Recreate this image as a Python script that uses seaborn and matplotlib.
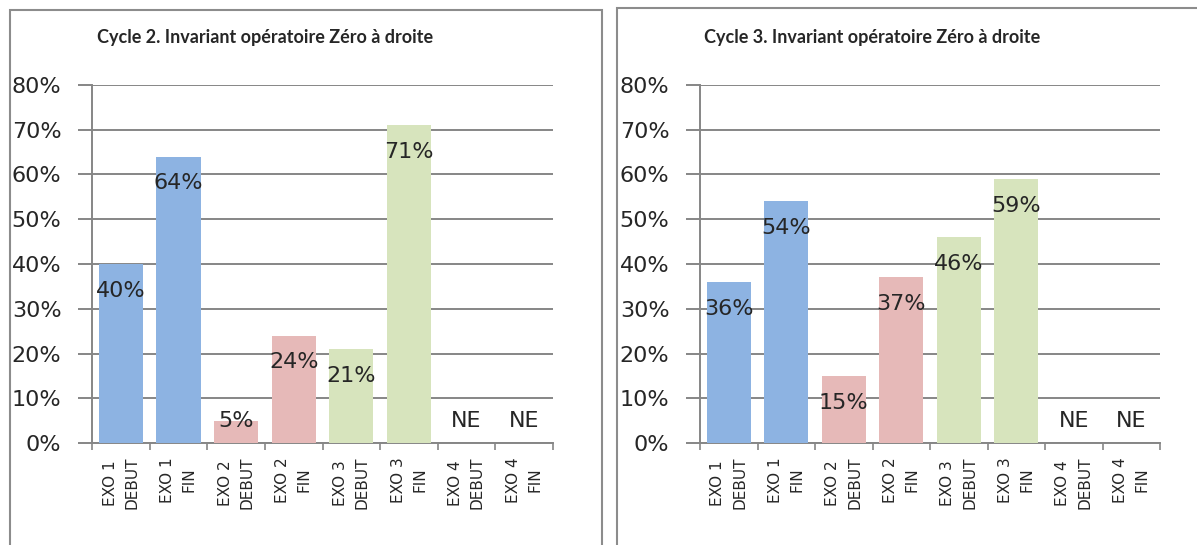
import numpy as np
import pandas as pd
import matplotlib
matplotlib.use("Agg")
import matplotlib.pyplot as plt
import seaborn as sns
from matplotlib.patches import Rectangle


CATEGORIES = ["EXO 1\nDEBUT", "EXO 1\nFIN", "EXO 2\nDEBUT", "EXO 2\nFIN",
              "EXO 3\nDEBUT", "EXO 3\nFIN", "EXO 4\nDEBUT", "EXO 4\nFIN"]
CYCLE2 = [40, 64, 5, 24, 21, 71, np.nan, np.nan]
CYCLE3 = [36, 54, 15, 37, 46, 59, np.nan, np.nan]
TITLES = ["Cycle 2. Invariant opératoire Zéro à droite",
          "Cycle 3. Invariant opératoire Zéro à droite"]
BAR_COLORS = ["#8DB3E2", "#8DB3E2", "#E6B9B8", "#E6B9B8",
              "#D7E4BD", "#D7E4BD", "#D7E4BD", "#D7E4BD"]
Y_TICKS = [0, 10, 20, 30, 40, 50, 60, 70, 80]

W, H = 1197, 545
GRID = "#868686"
TEXT = "#262626"


def draw_panel(ax, values):
    df = pd.DataFrame({"cat": CATEGORIES, "val": values})
    sns.barplot(data=df, x="cat", y="val", hue="cat", order=CATEGORIES,
                palette=BAR_COLORS, width=0.77, legend=False, ax=ax,
                saturation=1, linewidth=0, zorder=3)
    ax.set_xlim(-0.5, len(CATEGORIES) - 0.5)
    ax.set_ylim(0, 80)
    ax.set_yticks(Y_TICKS)
    ax.set_yticklabels([f"{t}%" for t in Y_TICKS], fontsize=16,
                       color=TEXT, family="DejaVu Sans")
    ax.yaxis.grid(True, color=GRID, linewidth=1.4, zorder=0)
    ax.set_axisbelow(True)
    ax.tick_params(axis="y", left=True, length=10, width=1.4, color=GRID,
                   pad=12)

    # category labels sit between the boundary ticks
    ax.set_xticks(range(len(CATEGORIES)))
    ax.set_xticklabels(CATEGORIES, rotation=90, fontsize=11, color=TEXT,
                       multialignment="center", linespacing=1.55)
    ax.set_xticks(np.arange(-0.5, len(CATEGORIES)), minor=True)
    ax.tick_params(axis="x", which="major", bottom=False, length=0, pad=10)
    ax.tick_params(axis="x", which="minor", bottom=True, length=5,
                   width=1.2, color=GRID)
    ax.set_xlabel("")
    ax.set_ylabel("")

    for side in ("top", "right"):
        ax.spines[side].set_visible(False)
    for side in ("left", "bottom"):
        ax.spines[side].set_color(GRID)
        ax.spines[side].set_linewidth(1.4)

    for i, v in enumerate(values):
        if np.isnan(v):
            ax.text(i, 5, "NE", ha="center", va="center", fontsize=16,
                    color=TEXT, zorder=5)
        else:
            ax.text(i, max(v - 6, 5), f"{v:.0f}%", ha="center", va="center",
                    fontsize=16, color=TEXT, zorder=5)


sns.set_theme(style="white")
plt.rcParams["font.family"] = ["DejaVu Sans"]

fig = plt.figure(figsize=(W / 100, H / 100), dpi=100)
fig.patch.set_facecolor("white")

# panel frames, like two pasted chart objects
fig.patches.append(Rectangle((10 / W, -0.05), 592 / W, 1.05 - 10 / H,
                             transform=fig.transFigure, fill=False,
                             edgecolor="#8c8c8c", linewidth=1.5))
fig.patches.append(Rectangle((617 / W, -0.05), 0.6, 1.05 - 8 / H,
                             transform=fig.transFigure, fill=False,
                             edgecolor="#8c8c8c", linewidth=1.5))

ax_bottom = 1 - 443 / H
ax_height = (443 - 85) / H
ax1 = fig.add_axes([92 / W, ax_bottom, (553 - 92) / W, ax_height])
ax2 = fig.add_axes([700 / W, ax_bottom, (1160 - 700) / W, ax_height])

draw_panel(ax1, CYCLE2)
draw_panel(ax2, CYCLE3)

fig.text(265 / W, 1 - 38 / H, TITLES[0], ha="center", va="center",
         fontsize=13, fontweight="bold", color=TEXT, family="Lato")
fig.text(872 / W, 1 - 37 / H, TITLES[1], ha="center", va="center",
         fontsize=13, fontweight="bold", color=TEXT, family="Lato")

fig.savefig("out.png", dpi=100)
